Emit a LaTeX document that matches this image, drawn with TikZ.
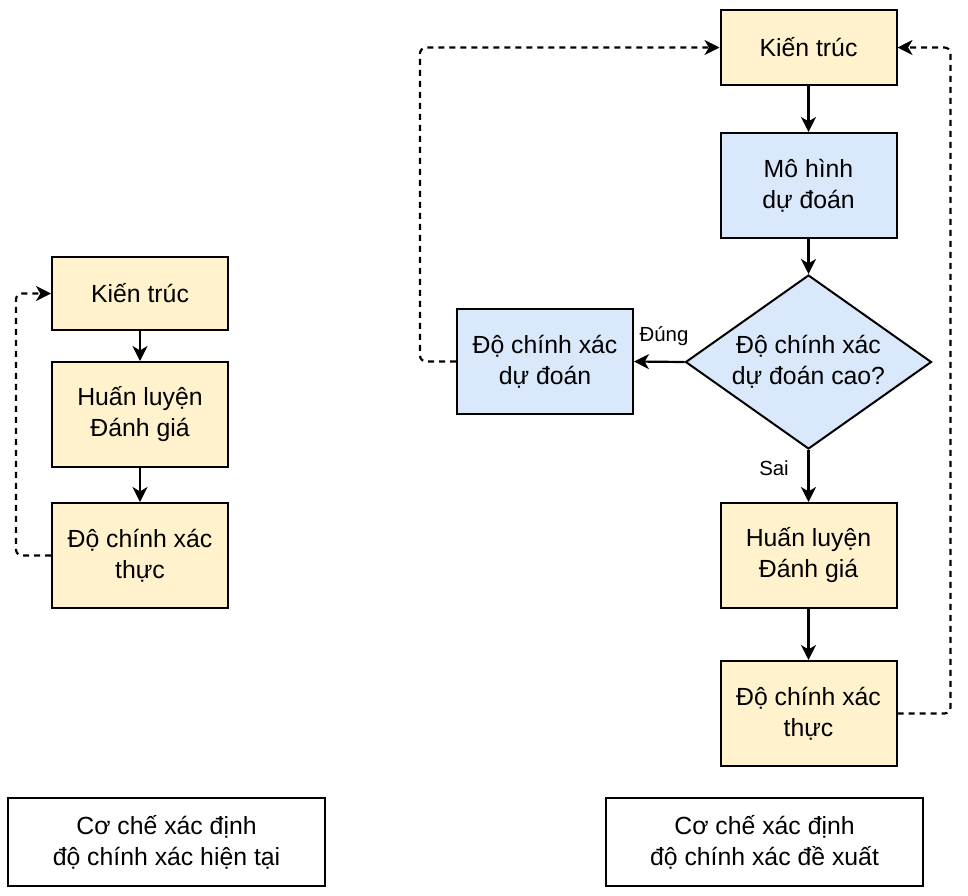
\documentclass[tikz,border=0pt]{standalone}
\usepackage{fontspec}
\setmainfont{Liberation Sans}
\usetikzlibrary{shapes.geometric,arrows.meta}
\definecolor{yfill}{HTML}{FFF2CC}
\definecolor{bfill}{HTML}{DAE8FC}
\begin{document}
\begin{tikzpicture}[x=0.5pt,y=-0.5pt,
  every node/.style={font=\fontsize{12.4}{15.5}\selectfont, align=center},
  ybox/.style={draw=black, line width=1pt, fill=yfill, minimum width=88pt, inner sep=0pt},
  bbox/.style={draw=black, line width=1pt, fill=bfill, minimum width=88pt, inner sep=0pt},
  wbox/.style={draw=black, line width=1pt, fill=white, minimum width=158.5pt, minimum height=44pt, inner sep=0pt},
  arr/.style={draw=black, line width=1.1pt, -{Stealth[length=7.5pt,width=7.5pt,inset=2.2pt]}},
  darr/.style={arr, dash pattern=on 3pt off 2.5pt, rounded corners=3pt},
  lab/.style={font=\fontsize{10.2}{12}\selectfont}
]
\useasboundingbox (0,0) rectangle (968,895);
% left column
\node[ybox, minimum height=36.5pt] (k1) at (140,293.5) {Kiến trúc};
\node[ybox, minimum height=52.5pt] (h1) at (140,414.5) {Huấn luyện\\Đánh giá};
\node[ybox, minimum height=52.5pt] (t1) at (140,555.5) {Độ chính xác\\thực};
\draw[arr] (k1) -- (h1);
\draw[arr] (h1) -- (t1);
\draw[darr] (t1.west) -- ++(-35,0) |- (k1.west);
% right column
\node[ybox, minimum height=37.5pt] (k2) at (808.5,47.5) {Kiến trúc};
\node[bbox, minimum height=52.5pt] (m2) at (808.5,185.5) {Mô hình\\dự đoán};
\node[diamond, draw=black, line width=1pt, fill=bfill, minimum width=123pt, minimum height=87pt, inner sep=0pt] (dia) at (808.5,362) {};
\node at (dia) {Độ chính xác\\dự đoán cao?};
\node[bbox, minimum height=52.5pt] (p2) at (545,361.5) {Độ chính xác\\dự đoán};
\node[ybox, minimum height=52.5pt] (h2) at (808.5,555.5) {Huấn luyện\\Đánh giá};
\node[ybox, minimum height=52.5pt] (t2) at (808.5,713.5) {Độ chính xác\\thực};
\draw[arr] (k2) -- (m2);
\draw[arr] (m2) -- (dia.north);
\draw[arr] (dia.west) -- (p2.east);
\draw[arr] (dia.south) -- (h2.north);
\draw[arr] (h2) -- (t2);
\node[lab] (dung) at (664,336) {Đúng};
\node[lab] (sai) at (774,468) {Sai};
\draw[darr] (t2.east) -- ++(53,0) |- (k2.east);
\draw[darr] (p2.west) -- ++(-36,0) |- (k2.west);
% captions
\node[wbox] (c1) at (166.5,842) {Cơ chế xác định\\độ chính xác hiện tại};
\node[wbox] (c2) at (764.5,842) {Cơ chế xác định\\độ chính xác đề xuất};
\end{tikzpicture}
\end{document}
